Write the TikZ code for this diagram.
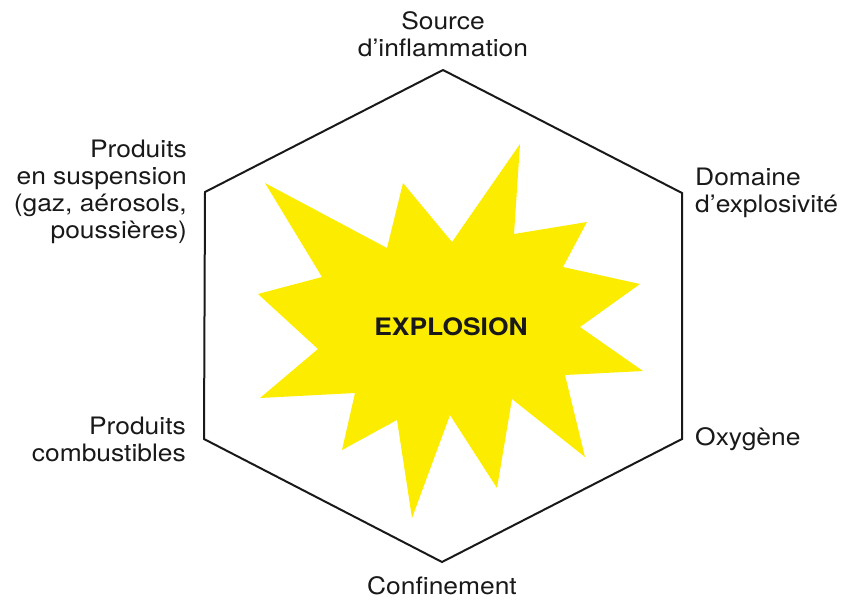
\documentclass[tikz,border=0pt]{standalone}
\usepackage{fontspec}
\setmainfont{TeX Gyre Heros}[FakeStretch=1.1]
\usepackage{tikz}
\usetikzlibrary{positioning}
\definecolor{boomyellow}{RGB}{252,236,0}

\begin{document}
\begin{tikzpicture}[
  x=1pt, y=-1pt,
  edge/.style={line width=2pt, black!90, line join=miter},
  burst/.style={fill=boomyellow},
  sidetext/.style={font=\fontsize{24}{27}\selectfont, text=black!90, inner sep=1pt, align=center},
  lefttext/.style={sidetext, align=right},
  righttext/.style={sidetext, align=left},
  bangtext/.style={font=\fontsize{24}{27}\selectfont\bfseries, text=black!90, inner sep=1pt}
]
\useasboundingbox (0,0) rectangle (848,600);

% Hexagon corners
\coordinate (T)  at (443,70);
\coordinate (UR) at (682,193);
\coordinate (LR) at (682,439);
\coordinate (B)  at (442,562);
\coordinate (LL) at (204,439);
\coordinate (UL) at (205,192);

% Yellow burst
\fill[burst] (265,183) -- (387,248) -- (403,183) -- (452,242) -- (520,144)
  -- (514,234) -- (587,222) -- (563,267) -- (640,284) -- (580,327)
  -- (643,371) -- (565,375) -- (585,457) -- (512,399) -- (497,488)
  -- (450,415) -- (412,518) -- (397,420) -- (342,450) -- (355,393)
  -- (260,398) -- (318,349) -- (258,294) -- (322,277) -- cycle;

\draw[edge] (T) -- (UR) -- (LR) -- (B) -- (LL) -- (UL) -- cycle;

\node[bangtext] (Boom) at (451,327) {EXPLOSION};

% Corner texts
\node[sidetext]  (Source)  [above=12pt of T]  {Source\\d’inflammation};
\node[righttext] (Domaine) [right=12pt of UR] {Domaine\\d’explosivité};
\node[righttext] (Oxy)     [right=12pt of LR] {Oxygène};
\node[sidetext]  (Conf)    [below=13pt of B]  {Confinement};
\node[lefttext]  (Comb)    [left=17pt of LL]  {Produits\\combustibles};
\node[lefttext]  (Susp)    [left=17pt of UL]  {Produits\\en suspension\\(gaz, aérosols,\\poussières)};

\end{tikzpicture}
\end{document}
